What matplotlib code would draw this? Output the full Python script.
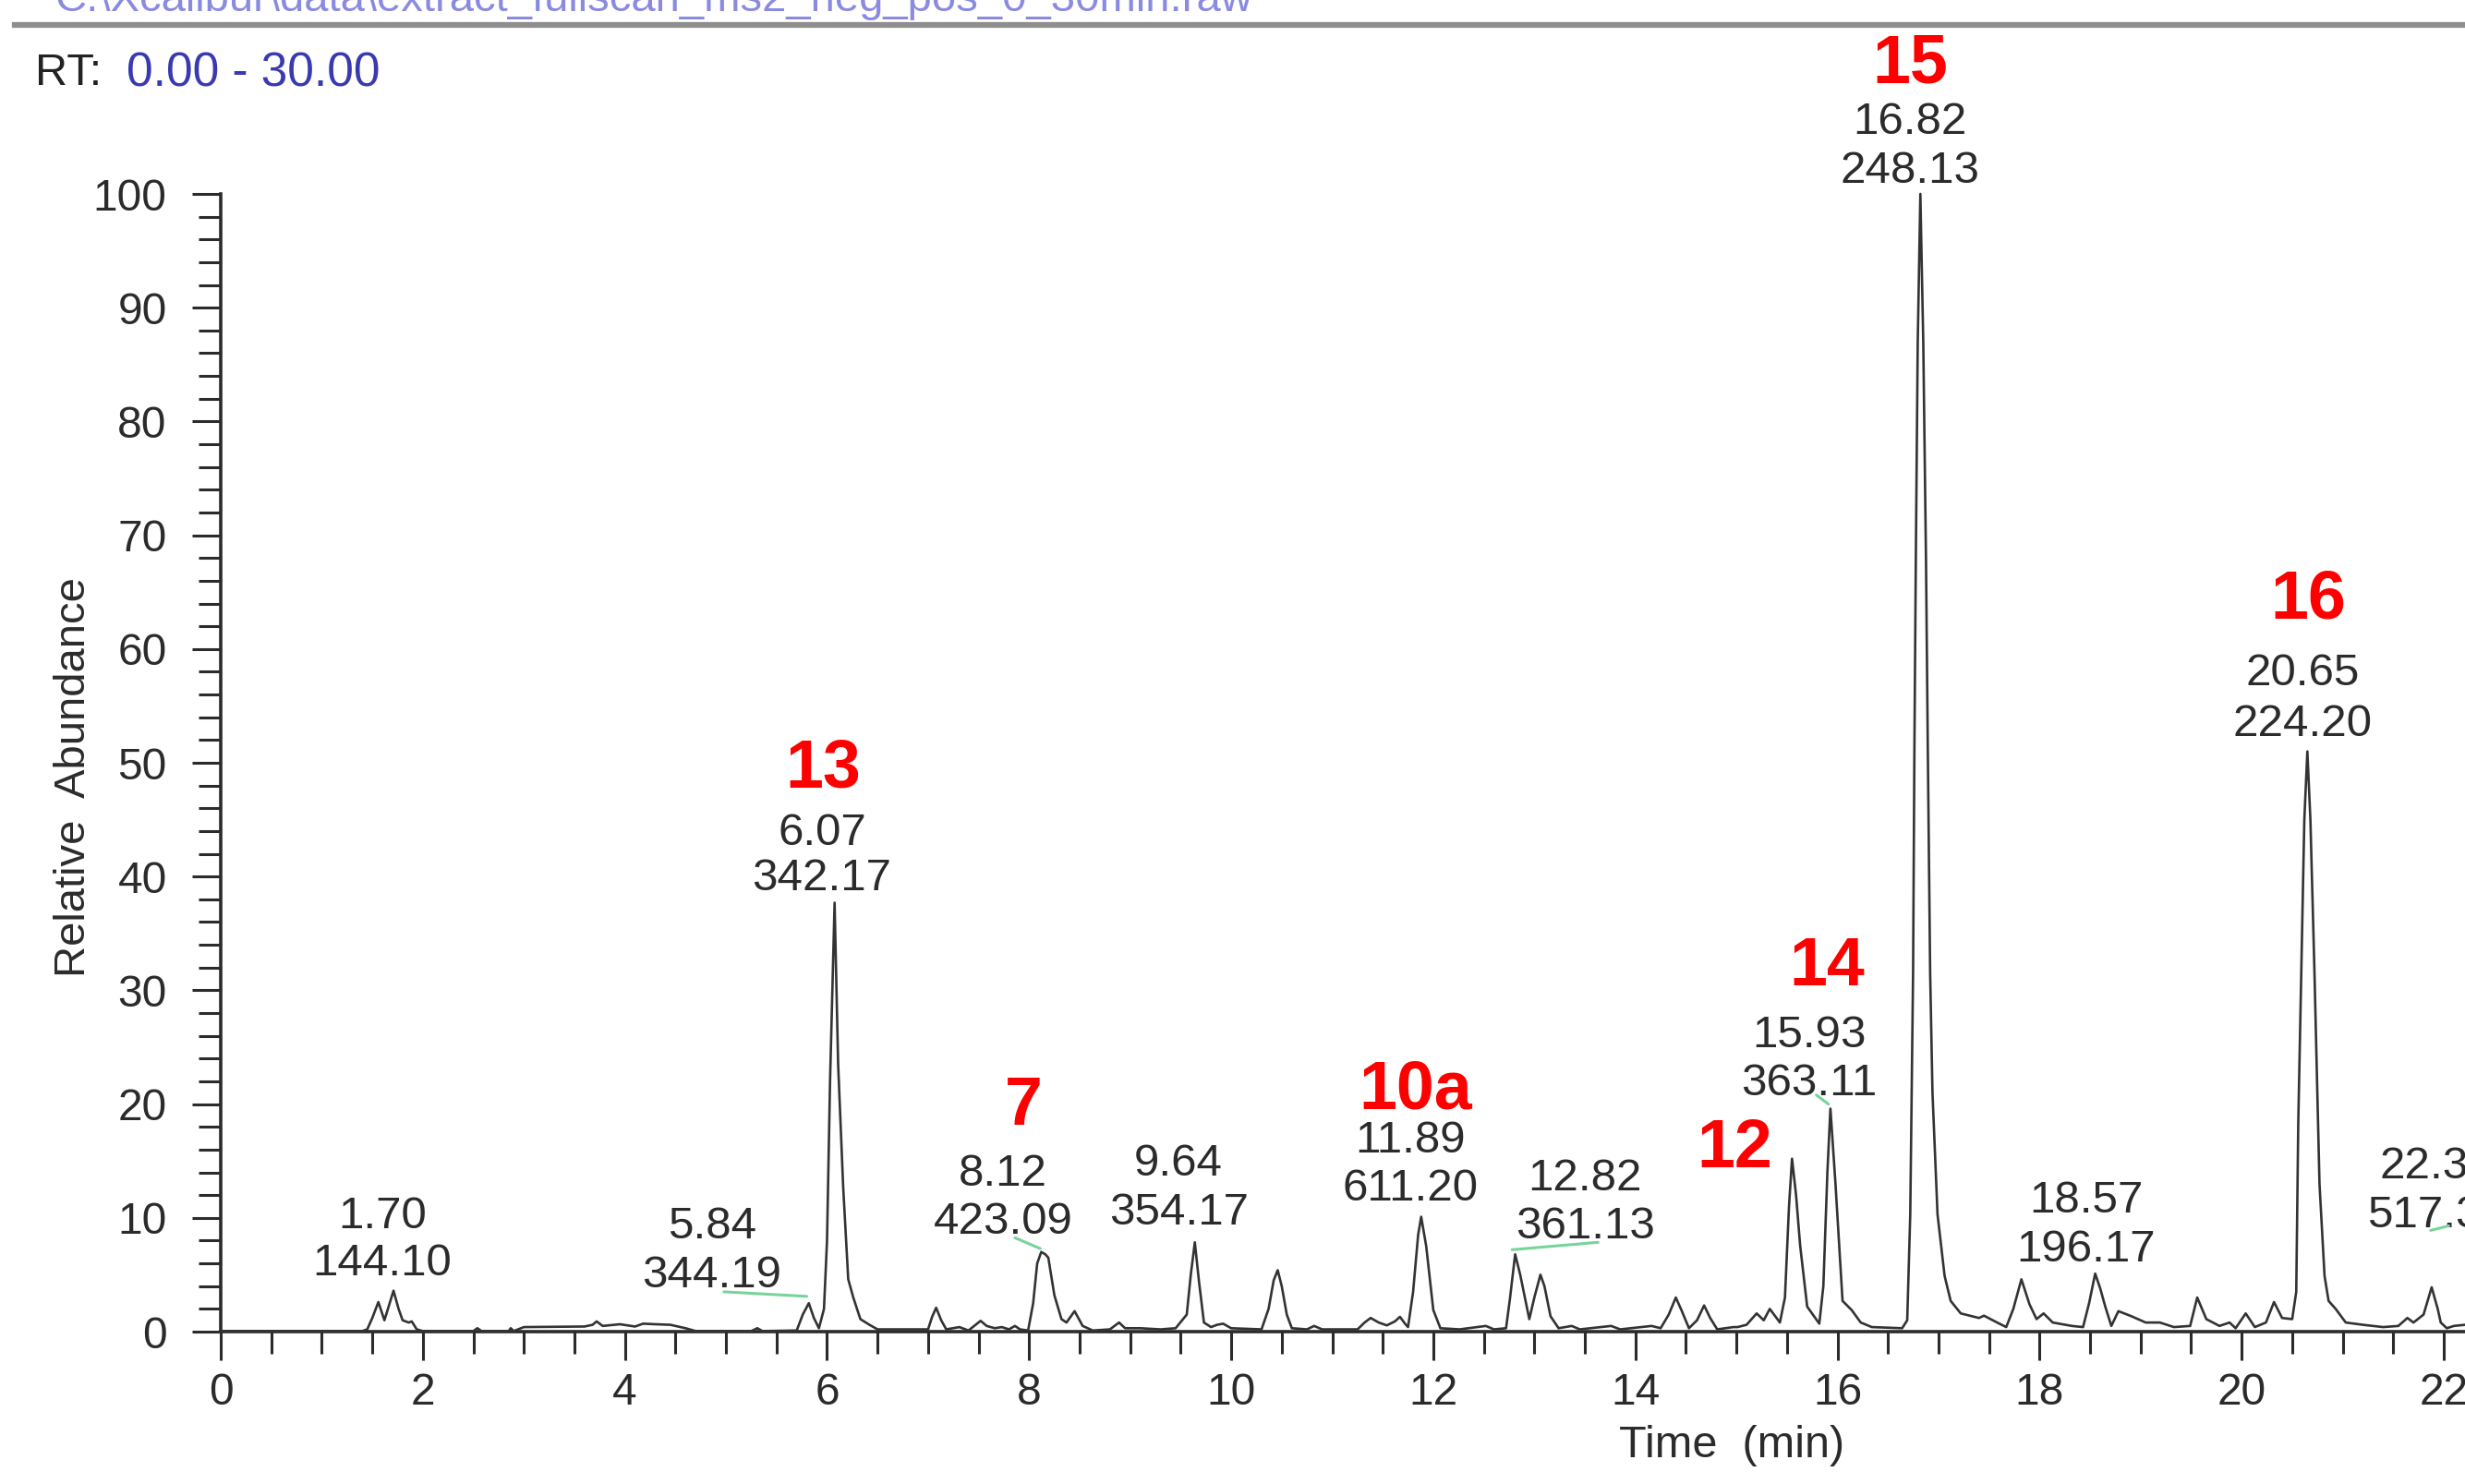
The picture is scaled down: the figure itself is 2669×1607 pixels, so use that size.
import numpy as np
import matplotlib
import matplotlib.pyplot as plt
from matplotlib.ticker import MultipleLocator

matplotlib.use("Agg")
plt.rcParams["font.family"] = ["Liberation Sans", "DejaVu Sans"]

# chromatogram trace (time in min, relative abundance)
rt = [0.00, 1.40, 1.45, 1.50, 1.56, 1.62, 1.71, 1.76, 1.80, 1.86, 1.89, 1.94, 2.00,
      2.50, 2.54, 2.58, 2.85, 2.87, 2.90, 3.00, 3.60, 3.68, 3.72, 3.78, 3.95, 4.10,
      4.18, 4.30, 4.45, 4.60, 4.70, 5.25, 5.31, 5.36, 5.70, 5.76, 5.82, 5.87, 5.92,
      5.97, 6.00, 6.03, 6.075, 6.11, 6.16, 6.21, 6.26, 6.33, 6.42, 6.50, 7.00, 7.04,
      7.08, 7.13, 7.18, 7.31, 7.40, 7.47, 7.52, 7.58, 7.66, 7.73, 7.80, 7.86, 7.91,
      7.99, 8.04, 8.08, 8.12, 8.16, 8.19, 8.25, 8.32, 8.37, 8.45, 8.53, 8.63, 8.80,
      8.89, 8.95, 9.10, 9.30, 9.45, 9.56, 9.60, 9.64, 9.68, 9.73, 9.80, 9.86, 9.92,
      10.00, 10.30, 10.37, 10.42, 10.46, 10.50, 10.55, 10.60, 10.75, 10.82, 10.90,
      11.25, 11.32, 11.38, 11.46, 11.54, 11.62, 11.67, 11.72, 11.75, 11.80, 11.85,
      11.88, 11.93, 12.00, 12.07, 12.26, 12.52, 12.60, 12.72, 12.76, 12.81, 12.86,
      12.92, 12.95, 13.00, 13.06, 13.10, 13.16, 13.24, 13.37, 13.45, 13.76, 13.85,
      14.16, 14.25, 14.33, 14.40, 14.46, 14.53, 14.61, 14.68, 14.74, 14.81, 14.97,
      15.01, 15.10, 15.20, 15.27, 15.33, 15.43, 15.48, 15.52, 15.55, 15.59, 15.63,
      15.70, 15.82, 15.86, 15.90, 15.93, 15.98, 16.05, 16.14, 16.23, 16.34, 16.64,
      16.69, 16.72, 16.748, 16.761, 16.775, 16.794, 16.82, 16.849, 16.876, 16.894,
      16.917, 16.94, 16.99, 17.06, 17.12, 17.22, 17.40, 17.45, 17.58, 17.67, 17.74,
      17.82, 17.90, 17.97, 18.04, 18.13, 18.32, 18.43, 18.49, 18.55, 18.60, 18.65,
      18.71, 18.78, 18.91, 19.05, 19.19, 19.33, 19.49, 19.56, 19.65, 19.78, 19.88,
      19.94, 20.04, 20.13, 20.24, 20.32, 20.40, 20.50, 20.54, 20.56, 20.59, 20.62,
      20.65, 20.68, 20.72, 20.77, 20.82, 20.86, 20.93, 21.03, 21.20, 21.40, 21.55,
      21.64, 21.70, 21.80, 21.88, 21.94, 21.97, 22.03, 22.10, 22.21]
abundance = [0.05, 0.05, 0.2, 1.2, 2.6, 1.0, 3.6, 2.0, 1.0, 0.8, 0.9, 0.2, 0.05,
             0.05, 0.3, 0.05, 0.05, 0.3, 0.05, 0.4, 0.45, 0.6, 0.9, 0.5, 0.65, 0.45,
             0.7, 0.65, 0.6, 0.3, 0.05, 0.05, 0.3, 0.05, 0.1, 1.5, 2.5, 1.2, 0.3,
             2.0, 8.0, 22.0, 37.7, 23.5, 12.7, 4.6, 3.0, 1.1, 0.6, 0.2, 0.2, 1.3,
             2.1, 1.0, 0.2, 0.4, 0.1, 0.6, 0.95, 0.5, 0.3, 0.4, 0.2, 0.5, 0.2,
             0.1, 2.5, 6.0, 7.0, 6.8, 6.5, 3.2, 1.1, 0.8, 1.8, 0.5, 0.1, 0.2,
             0.8, 0.3, 0.3, 0.2, 0.3, 1.5, 5.0, 7.85, 4.5, 0.8, 0.4, 0.6, 0.7,
             0.3, 0.2, 2.0, 4.5, 5.4, 4.0, 1.5, 0.3, 0.2, 0.5, 0.2,
             0.2, 0.8, 1.2, 0.8, 0.55, 0.9, 1.3, 0.7, 0.4, 3.5, 8.5,
             10.1, 7.5, 1.9, 0.3, 0.2, 0.5, 0.2, 0.3, 3.0, 6.8, 5.0,
             2.4, 1.1, 3.0, 5.0, 4.0, 1.35, 0.3, 0.5, 0.2, 0.5, 0.2,
             0.5, 0.3, 1.5, 3.0, 1.8, 0.3, 1.0, 2.3, 1.2, 0.2, 0.4,
             0.4, 0.6, 1.6, 1.0, 2.0, 0.8, 3.0, 11.0, 15.2, 12.0, 7.6,
             2.2, 0.7, 4.0, 14.0, 19.6, 13.0, 2.7, 1.9, 0.8, 0.4, 0.3,
             1.0, 10.3, 31.5, 51.0, 67.7, 86.9, 100.0, 86.9, 67.7, 51.0,
             31.5, 21.0, 10.3, 4.9, 2.7, 1.6, 1.2, 1.4, 0.8, 0.4, 2.0,
             4.6, 2.4, 1.1, 1.6, 0.8, 0.5, 0.4, 2.5, 5.1, 3.8, 2.2,
             0.5, 1.8, 1.35, 0.8, 0.8, 0.4, 0.5, 3.0, 1.1, 0.5, 0.8,
             0.3, 1.6, 0.4, 0.8, 2.6, 1.2, 1.1, 3.5, 18.4, 31.7, 45.0,
             51.0, 45.0, 31.7, 13.0, 4.9, 2.7, 2.0, 0.8, 0.6, 0.4, 0.5,
             1.2, 0.8, 1.5, 3.9, 2.0, 0.8, 0.3, 0.5, 0.6]

# peak labels: retention time / base peak m/z, with label centre positions
lab_rt = ["1.70", "5.84", "6.07", "8.12", "9.64", "11.89", "12.82", "15.93",
          "16.82", "18.57", "20.65", "22.34"]
lab_mz = ["144.10", "344.19", "342.17", "423.09", "354.17", "611.20", "361.13",
          "363.11", "248.13", "196.17", "224.20", "517.34"]
lab_x = [1.60, 4.86, 5.95, 7.74, 9.48, 11.77, 13.50, 15.72, 16.72, 18.46, 20.60, 21.93]
lab_y_rt = [10.1, 9.2, 43.8, 13.8, 14.7, 16.8, 13.4, 26.0, 106.3, 11.5, 57.8, 14.5]
lab_y_mz = [6.0, 4.9, 39.8, 9.6, 10.4, 12.5, 9.2, 21.8, 102.0, 7.2, 53.4, 10.2]

# compound numbers in red
cmp_names = ["13", "7", "10a", "12", "14", "15", "16"]
cmp_x = [5.96, 7.95, 11.82, 14.98, 15.90, 16.72, 20.66]
cmp_y = [49.4, 19.8, 21.2, 16.0, 32.0, 111.4, 64.3]

# green label leaders
leader_x = [(4.98, 5.80), (7.86, 8.11), (12.78, 13.63), (15.79, 15.91), (21.87, 22.05)]
leader_y = [(3.5, 3.1), (8.25, 7.3), (7.2, 7.85), (20.8, 20.0), (8.9, 9.3)]

W, H = 2669, 1607
fig = plt.figure(figsize=(W / 100, H / 100), dpi=100)
fig.patch.set_facecolor("white")

x0, y0 = 239, 1442      # pixel of (0, 0)
ytop = 210              # pixel of 100 %
ax = fig.add_axes([x0 / W, (H - y0) / H, 1 - x0 / W, (y0 - ytop) / H])
ax.set_xlim(0, 22.21)
ax.set_ylim(0, 100)

ink = "#2b2b2b"
ax.plot(rt, abundance, color="#333333", lw=1.9, clip_on=False, zorder=3)

for (xs, ys) in zip(leader_x, leader_y):
    ax.plot(xs, ys, color="#78d49a", lw=2.2, solid_capstyle="round", zorder=4, clip_on=False)

for s1, s2, x, ya, yb in zip(lab_rt, lab_mz, lab_x, lab_y_rt, lab_y_mz):
    ax.text(x, ya, s1, ha="center", va="center", fontsize=35.5, color=ink, clip_on=False)
    ax.text(x, yb, s2, ha="center", va="center", fontsize=35.5, color=ink, clip_on=False)

for s, x, y in zip(cmp_names, cmp_x, cmp_y):
    ax.text(x, y, s, ha="center", va="center", fontsize=53, fontweight="bold",
            color="#ff0000", clip_on=False, zorder=5)

for side in ["top", "right"]:
    ax.spines[side].set_visible(False)
for side in ["left", "bottom"]:
    ax.spines[side].set_linewidth(2.6)
    ax.spines[side].set_color(ink)

ax.xaxis.set_major_locator(MultipleLocator(2))
ax.xaxis.set_minor_locator(MultipleLocator(0.5))
ax.yaxis.set_major_locator(MultipleLocator(10))
ax.yaxis.set_minor_locator(MultipleLocator(2))
ax.tick_params(which="major", length=22, width=2.2, color=ink, labelsize=34.5,
               labelcolor=ink, direction="out")
ax.tick_params(which="minor", length=17, width=2.2, color=ink, direction="out")
ax.tick_params(axis="x", which="major", pad=10)
ax.tick_params(axis="y", which="major", pad=20)

fig.text(80 / W, 1 - 842 / H, "Relative  Abundance", rotation=90, ha="center",
         va="center", fontsize=34, color=ink)
fig.text(1875 / W, 1 - 1565 / H, "Time  (min)", ha="center", va="center",
         fontsize=35, color=ink)

# header of the instrument window
fig.text(38 / W, 1 - 80 / H, "RT:", ha="left", va="center", fontsize=35, color="#222222")
fig.text(137 / W, 1 - 80 / H, "0.00 - 30.00", ha="left", va="center", fontsize=37,
         color="#3a3ab0")
fig.text(60 / W, 1 - 12 / H, "C:\\Xcalibur\\data\\extract_fullscan_ms2_neg_pos_0_30min.raw",
         ha="left", va="baseline", fontsize=34, color="#8a8ae0")
fig.add_artist(plt.Line2D([16 / W, 1], [1 - 27 / H, 1 - 27 / H], color="#8e8e8e", lw=4.5))

fig.savefig("out.png", dpi=100, facecolor="white")
